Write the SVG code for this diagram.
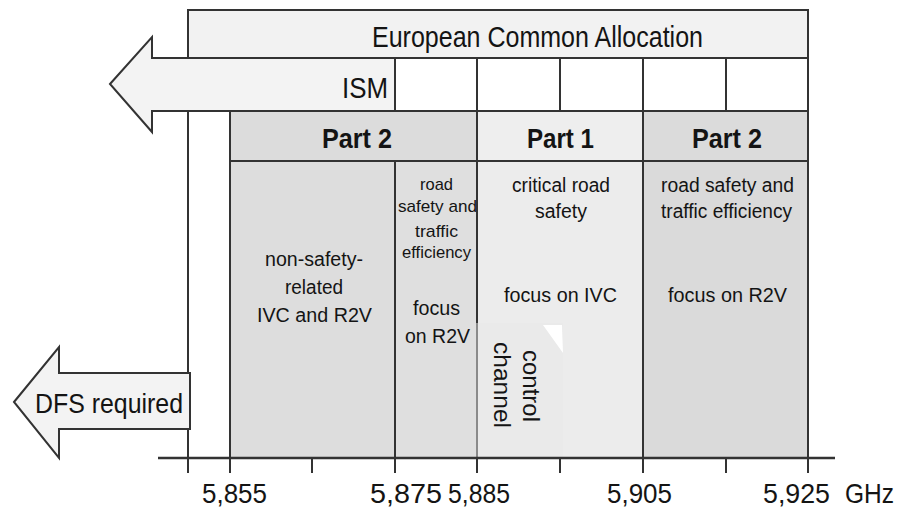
<svg xmlns="http://www.w3.org/2000/svg" width="902" height="509" viewBox="0 0 902 509">
  <style>
    .ln { stroke: #333; stroke-width: 2; fill: none; }
    .box { stroke: #333; stroke-width: 2; }
    .arrow { fill: #f3f3f3; stroke: #333; stroke-width: 2; stroke-linejoin: miter; }
    text { font-family: "Liberation Sans", Arial, sans-serif; fill: #141414; }
    .hd { font-weight: bold; font-size: 28px; text-anchor: start; }
    .lbl { font-size: 20px; }
    .sm { font-size: 17px; }
    .ax { font-size: 28px; }
  </style>

  <rect x="0" y="0" width="902" height="509" fill="#ffffff"/>

  <!-- frequency band frame line at the lower band edge -->
  <line class="ln" x1="188" y1="58" x2="188" y2="473"/>

  <g id="european-allocation">
    <rect class="box" x="188" y="10" width="620" height="48" fill="#f2f2f2"/>
    <text x="372" y="47" font-size="30" textLength="331" lengthAdjust="spacingAndGlyphs">European Common Allocation</text>
  </g>

  <g id="channel-grid">
    <rect class="box" x="395" y="58" width="413" height="53" fill="#ffffff"/>
    <line class="ln" x1="477" y1="58" x2="477" y2="111"/>
    <line class="ln" x1="560" y1="58" x2="560" y2="111"/>
    <line class="ln" x1="643" y1="58" x2="643" y2="111"/>
    <line class="ln" x1="726" y1="58" x2="726" y2="111"/>
  </g>

  <g id="ism">
    <polygon class="arrow" points="110,84 152,37 152,58 395,58 395,111 152,111 152,132"/>
    <text x="342" y="98" font-size="29" textLength="46" lengthAdjust="spacingAndGlyphs">ISM</text>
  </g>

  <g id="part2-low">
    <rect class="box" x="230" y="111" width="247" height="50" fill="#dcdcdc"/>
    <text class="hd" x="322" y="148" textLength="70" lengthAdjust="spacingAndGlyphs">Part 2</text>
    <rect class="box" x="230" y="161" width="165" height="297" fill="#dddddd"/>
    <text class="lbl" x="265" y="266" font-size="21" textLength="98" lengthAdjust="spacingAndGlyphs">non-safety-</text>
    <text class="lbl" x="285" y="294" font-size="21" textLength="58" lengthAdjust="spacingAndGlyphs">related</text>
    <text class="lbl" x="257" y="322" font-size="21" textLength="115" lengthAdjust="spacingAndGlyphs">IVC and R2V</text>
  </g>

  <g id="part2-narrow">
    <rect class="box" x="395" y="161" width="82" height="297" fill="#dfdfdf"/>
    <text class="sm" x="420" y="190" textLength="33" lengthAdjust="spacingAndGlyphs">road</text>
    <text class="sm" x="398" y="212" textLength="79" lengthAdjust="spacingAndGlyphs">safety and</text>
    <text class="sm" x="415" y="237" textLength="43" lengthAdjust="spacingAndGlyphs">traffic</text>
    <text class="sm" x="402" y="258" textLength="69" lengthAdjust="spacingAndGlyphs">efficiency</text>
    <text class="lbl" x="413" y="315" textLength="47" lengthAdjust="spacingAndGlyphs">focus</text>
    <text class="lbl" x="405" y="343" font-size="21" textLength="65" lengthAdjust="spacingAndGlyphs">on R2V</text>
  </g>

  <g id="part1">
    <rect class="box" x="477" y="111" width="166" height="50" fill="#eeeeee"/>
    <text class="hd" x="527" y="148" textLength="67" lengthAdjust="spacingAndGlyphs">Part 1</text>
    <rect class="box" x="477" y="161" width="166" height="297" fill="#ececec"/>
    <text class="lbl" x="512" y="192" textLength="98" lengthAdjust="spacingAndGlyphs">critical road</text>
    <text class="lbl" x="535" y="218" textLength="52" lengthAdjust="spacingAndGlyphs">safety</text>
    <text class="lbl" x="504" y="302" textLength="113" lengthAdjust="spacingAndGlyphs">focus on IVC</text>
  </g>

  <g id="control-channel">
    <rect x="478" y="323" width="85" height="134" fill="#eaeaea"/>
    <line x1="477" y1="323" x2="477" y2="458" stroke="#8a8a8a" stroke-width="2"/>
    <polygon points="543,325 562,325 563,353" fill="#ffffff"/>
    <text transform="translate(523,350) rotate(90)" font-size="24" textLength="72" lengthAdjust="spacingAndGlyphs">control</text>
    <text transform="translate(494,342) rotate(90)" font-size="24" textLength="86" lengthAdjust="spacingAndGlyphs">channel</text>
  </g>

  <g id="part2-high">
    <rect class="box" x="643" y="111" width="165" height="50" fill="#dbdbdb"/>
    <text class="hd" x="692" y="148" textLength="70" lengthAdjust="spacingAndGlyphs">Part 2</text>
    <rect class="box" x="643" y="161" width="165" height="297" fill="#dadada"/>
    <text class="lbl" x="661" y="192" textLength="133" lengthAdjust="spacingAndGlyphs">road safety and</text>
    <text class="lbl" x="661" y="218" textLength="131" lengthAdjust="spacingAndGlyphs">traffic efficiency</text>
    <text class="lbl" x="668" y="302" textLength="119" lengthAdjust="spacingAndGlyphs">focus on R2V</text>
  </g>

  <g id="dfs">
    <polygon class="arrow" points="14,402 59,347 59,373 190,373 190,429 59,429 59,458"/>
    <text x="35" y="413" font-size="28" textLength="148" lengthAdjust="spacingAndGlyphs">DFS required</text>
  </g>

  <g id="axis">
    <line x1="158" y1="458" x2="835" y2="458" stroke="#333" stroke-width="2.5"/>
    <g class="ln">
      <line x1="188" y1="458" x2="188" y2="473"/>
      <line x1="230" y1="458" x2="230" y2="473"/>
      <line x1="312" y1="458" x2="312" y2="473"/>
      <line x1="395" y1="458" x2="395" y2="473"/>
      <line x1="477" y1="458" x2="477" y2="473"/>
      <line x1="560" y1="458" x2="560" y2="473"/>
      <line x1="643" y1="458" x2="643" y2="473"/>
      <line x1="726" y1="458" x2="726" y2="473"/>
      <line x1="808" y1="458" x2="808" y2="473"/>
    </g>
    <text class="ax" x="202" y="503" textLength="65" lengthAdjust="spacingAndGlyphs">5,855</text>
    <text class="ax" x="370" y="503" textLength="72" lengthAdjust="spacingAndGlyphs">5,875</text>
    <text class="ax" x="448" y="503" textLength="62" lengthAdjust="spacingAndGlyphs">5,885</text>
    <text class="ax" x="607" y="503" textLength="65" lengthAdjust="spacingAndGlyphs">5,905</text>
    <text class="ax" x="763" y="503" textLength="67" lengthAdjust="spacingAndGlyphs">5,925</text>
    <text class="ax" x="845" y="503" textLength="49" lengthAdjust="spacingAndGlyphs">GHz</text>
  </g>
</svg>
